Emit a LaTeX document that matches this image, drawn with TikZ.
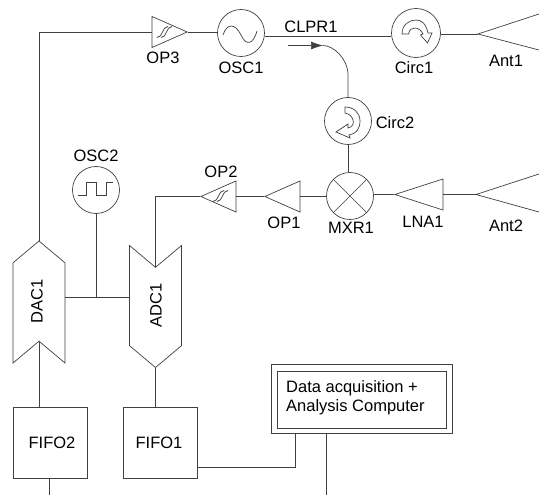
\documentclass[tikz,border=0pt]{standalone}
\usepackage{fontspec}
\setmainfont{Liberation Sans}
\usetikzlibrary{arrows.meta,shapes.geometric,shapes.symbols}
\tikzset{
	wire/.style={draw=black!75,line width=.7pt},
	part/.style={draw=black!75,line width=.7pt,inner sep=0pt},
	osc/.style={part,circle,minimum size=47pt},
	amp/.style={part,isosceles triangle,isosceles triangle stretches,shape border rotate=180,anchor=apex,minimum width=31pt,minimum height=35pt},
	conv/.style={part,signal,rotate=90,minimum width=122pt,minimum height=52pt,signal pointer angle=100},
	fifo/.style={part,rectangle,minimum width=74pt,minimum height=71pt},
	lbl/.style={inner sep=0pt,font=\fontsize{16.5}{17}\selectfont}
}
\newcommand{\filtersym}{
	\draw (0,5) .. controls (6,5) and (5,-6) .. (11,-6);
	\draw (4,5) .. controls (10,5) and (9,-6) .. (15,-6);
}
\begin{document}
\begin{tikzpicture}[x=1pt,y=-1pt,>=latex]
	\useasboundingbox (0,0) rectangle (539,495);
	% oscillators and circulators
	\node [osc] (OSC1) at (241,33) {};
	\node [osc] (OSC2) at (96,190) {};
	\node [osc,minimum size=49pt] (Circ1) at (416,33) {};
	\node [osc] (Circ2) at (348,121) {};
	\node [osc] (MXR1) at (350,196) {};
	% amplifiers
	\node [amp,shape border rotate=0] (OP3) at (188,32) {};
	\node [amp] (OP2) at (200,196.5) {};
	\node [amp] (OP1) at (264,196.5) {};
	\node [amp,minimum height=48pt] (LNA1) at (394,194.5) {};
	% converters
	\node [conv,signal to=east,signal from=west] (DAC1) at (39,302) {};
	\node [conv,signal to=west,signal from=east] (ADC1) at (155.5,306.5) {};
	\node [rotate=90,lbl] (DAC1text) at (37,301) {DAC1};
	\node [rotate=90,lbl] (ADC1text) at (156,305) {ADC1};
	\node [fifo] (FIFO2) at (50,442.5) {};
	\node [fifo] (FIFO1) at (160,442.5) {};
	% computer
	\node [part,minimum width=181pt,minimum height=69pt] (PC) at (361.5,398.5) {};
	\node [part,minimum width=169pt,minimum height=57pt] (PCin) at (361.5,399.5) {};
	\node [lbl,align=left,anchor=west] (PCtext) at (286,397.5) {Data acquisition +\\[2pt]Analysis Computer};
	% free ends
	\coordinate (bus) at (96,297);
	\coordinate (Ant1) at (478,34);
	\coordinate (Ant2) at (476,194.5);
	\coordinate (Ant1up) at (539,14);
	\coordinate (Ant1lo) at (539,50);
	\coordinate (Ant2up) at (539,174);
	\coordinate (Ant2lo) at (539,212);
	\coordinate (FIFO2end) at (49,495);
	\coordinate (PCend) at (326,495);
	\coordinate (CLPRtop) at (323,45.5);
	\coordinate (CLPRend) at (288,45.5);
	% connectors
	\draw [wire] (DAC1.east) |- (OP3.lower side);
	\draw [wire] (OP3.apex) -- (OSC1.west |- OP3.apex);
	\draw [wire] (OSC1.east |- 0,36) -- (Circ1.west |- 0,36);
	\draw [wire] (Circ1.east |- Ant1) -- (Ant1);
	\draw [wire] (Ant1up) -- (Ant1) -- (Ant1lo);
	\draw [wire] (Ant2up) -- (Ant2) -- (Ant2lo);
	\draw [wire] (LNA1.lower side) -- (Ant2);
	\draw [wire] (MXR1.east |- LNA1.apex) -- (LNA1.apex);
	\draw [wire] (OP1.lower side) -- (MXR1.west |- OP1.apex);
	\draw [wire] (OP2.lower side) -- (OP1.apex);
	\draw [wire] (OP2.apex) -| (ADC1.east);
	\draw [wire] (Circ2.south) -- (Circ2.south |- MXR1.north);
	\draw [wire] (OSC2.south) -- (bus);
	\draw [wire] (bus -| DAC1.south) -- (bus -| ADC1.north);
	\draw [wire] (DAC1.west) -- (FIFO2.north -| DAC1.west);
	\draw [wire] (ADC1.west) -- (FIFO1.north -| ADC1.west);
	\draw [wire] (FIFO2end |- FIFO2.south) -- (FIFO2end);
	\draw [wire] (FIFO1.east |- 0,467) -| (PC.south -| 295,0);
	\draw [wire] (PCend |- PC.south) -- (PCend);
	\draw [wire] (Circ2.north) -- +(0,-22) .. controls +(0,-16) and (334,45.5) .. (CLPRtop);
	\draw [wire,-{Latex[length=12pt,width=8pt]}] (CLPRend) -- (CLPRtop);
	% symbols
	\begin{scope}[shift={(OSC1.center)},wire]
		\draw (-18,2) .. controls (-14,-10) and (-6,-10) .. (0,2) .. controls (5,13) and (12,12) .. (16,-2);
	\end{scope}
	\begin{scope}[shift={(OSC2.center)},wire]
		\draw (-18,5) -- (-10,5) -- (-10,-8) -- (0,-8) -- (0,5) -- (10,5) -- (10,-8) -- (17,-8);
	\end{scope}
	\begin{scope}[shift={(Circ1.center)},wire]
		\draw (-14,1) .. controls (-14,-9) and (-6,-13) .. (0,-13) .. controls (6,-13) and (10,-9) .. (12,0) -- (16,0) -- (11.5,10) -- (4.5,2) -- (7,1) .. controls (4,-6) and (-6,-8) .. (-7.5,1) -- cycle;
	\end{scope}
	\begin{scope}[shift={(Circ2.center)},wire]
		\draw (-3,-14) .. controls (6,-14) and (12,-8) .. (12,0) .. controls (12,8) and (8,13) .. (1,14) -- (2,17) -- (-12,11) -- (0,3) -- (0,7) .. controls (5,6) and (6,2) .. (5,-1) .. controls (4,-5) and (1,-7) .. (-3,-8) -- cycle;
	\end{scope}
	\begin{scope}[shift={(OP3.apex)},xshift=-31pt,yshift=-.5pt,wire]
		\filtersym
	\end{scope}
	\begin{scope}[shift={(OP2.apex)},xshift=13pt,wire]
		\filtersym
	\end{scope}
	\begin{scope}[wire]
		\draw (MXR1.north west) -- (MXR1.south east);
		\draw (MXR1.north east) -- (MXR1.south west);
	\end{scope}
	% labels
	\path
	(163,58) node[lbl] (OP3text) {OP3}
	(241,68) node[lbl] (OSC1text) {OSC1}
	(311,27) node[lbl] (CLPR1) {CLPR1}
	(414,68) node[lbl] (Circ1text) {Circ1}
	(506,61) node[lbl] (Ant1text) {Ant1}
	(395,123) node[lbl] (Circ2text) {Circ2}
	(96,156) node[lbl] (OSC2text) {OSC2}
	(221,172) node[lbl] (OP2text) {OP2}
	(284,223) node[lbl] (OP1text) {OP1}
	(351,228) node[lbl] (MXR1text) {MXR1}
	(423,222) node[lbl] (LNA1text) {LNA1}
	(506,226) node[lbl] (Ant2text) {Ant2}
	(52,443) node[lbl] (FIFO2text) {FIFO2}
	(159,443) node[lbl] (FIFO1text) {FIFO1};
\end{tikzpicture}
\end{document}
